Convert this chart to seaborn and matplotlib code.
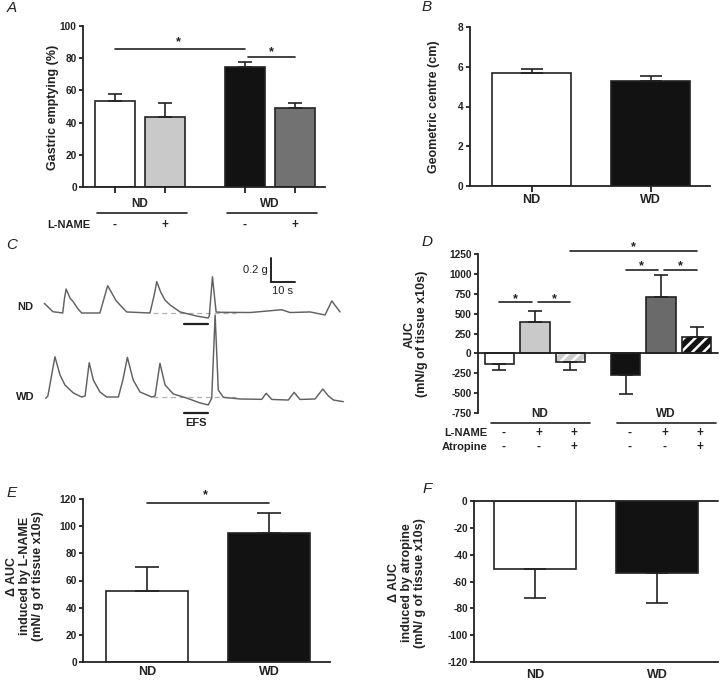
import numpy as np
import pandas as pd
import matplotlib
matplotlib.use("Agg")
import matplotlib.pyplot as plt
import seaborn as sns
from matplotlib.patches import Rectangle
from matplotlib.transforms import blended_transform_factory, offset_copy

# ---------------- data ----------------
# Panel A: gastric emptying (%)
a_diet = ["ND", "ND", "WD", "WD"]
a_lname = ["-", "+", "-", "+"]
a_mean = [53.2, 43.5, 74.3, 49.3]
a_sem = [4.6, 8.6, 3.4, 2.9]

# Panel B: geometric centre (cm)
b_diet = ["ND", "WD"]
b_mean = [5.70, 5.28]
b_sem = [0.18, 0.24]

# Panel C: representative traces (time in s, force in g above baseline)
nd_t = [0.1, 3.7, 7.7, 8.4, 9.1, 10.7, 12.1, 13.8, 15.5, 23.0, 25.1, 26.2, 27.9, 29.5,
        31.3, 34.0, 43.6, 45.3, 46.4, 48.0, 49.8, 51.9, 56.0, 62.8, 67.5, 68.0, 69.3,
        70.8, 72.4, 84.8, 97.8, 101.2, 109.5, 115.6, 118.4, 121.8]
nd_g = [0.083, 0.011, 0.0, 0.12, 0.205, 0.128, 0.094, 0.04, 0.0, 0.0, 0.154, 0.233,
        0.171, 0.11, 0.068, 0.009, 0.0, 0.15, 0.268, 0.179, 0.11, 0.068, 0.009, -0.026,
        -0.043, -0.026, 0.31, 0.009, 0.006, 0.004, 0.028, 0.004, 0.009, -0.017, 0.103,
        0.009]
wd_t = [0.7, 1.6, 4.5, 6.6, 8.6, 12.1, 15.5, 16.9, 18.6, 20.3, 23.0, 25.8, 30.6, 32.5,
        34.3, 36.7, 39.5, 44.3, 45.7, 47.7, 49.8, 53.2, 58.7, 64.2, 67.6, 69.0, 70.4,
        71.7, 73.8, 80.7, 89.6, 91.4, 93.7, 100.5, 102.9, 105.3, 111.5, 114.7, 117.0,
        119.1, 123.2]
wd_g = [-0.011, 0.009, 0.344, 0.188, 0.103, 0.034, 0.0, 0.009, 0.293, 0.145, 0.043,
        0.0, 0.0, 0.15, 0.339, 0.145, 0.043, 0.0, 0.009, 0.288, 0.103, 0.026, -0.009,
        -0.051, -0.068, -0.009, 0.70, 0.06, -0.003, -0.017, -0.02, 0.032, -0.021,
        -0.026, 0.040, -0.021, -0.017, 0.068, 0.009, -0.026, -0.040]
trace_names = ["ND", "WD"]
efs_window = [57.6, 67.5]
baseline_window = [44.9, 79.0]
scale_s = 10
scale_g = 0.2

# Panel D: AUC
d_diet = ["ND", "ND", "ND", "WD", "WD", "WD"]
d_treat = ["Control", "L-NAME", "L-NAME+Atropine"] * 2
d_lname = ["-", "+", "+", "-", "+", "+"]
d_atro = ["-", "-", "+", "-", "-", "+"]
d_mean = [-133, 396, -113, -271, 708, 204]
d_sem = [75, 137, 95, 237, 280, 129]

# Panel E: delta AUC induced by L-NAME
e_diet = ["ND", "WD"]
e_mean = [52.4, 95.2]
e_sem = [17.9, 14.2]

# Panel F: delta AUC induced by atropine
f_diet = ["ND", "WD"]
f_mean = [-50.7, -53.9]
f_sem = [21.3, 22.3]

# ---------------- style ----------------
W, H = 720, 681
sns.set_style("ticks")
plt.rcParams["font.family"] = ["Liberation Sans", "DejaVu Sans"]
plt.rcParams["font.weight"] = "bold"
plt.rcParams["axes.labelweight"] = "bold"
plt.rcParams["axes.unicode_minus"] = False
plt.rcParams["hatch.linewidth"] = 1.8
INK = "#222222"
plt.rcParams["text.color"] = INK
plt.rcParams["xtick.color"] = INK
plt.rcParams["ytick.color"] = INK

fig = plt.figure(figsize=(W / 100, H / 100), dpi=100)


def add_ax(l, t, r, b):
    return fig.add_axes([l / W, 1 - b / H, (r - l) / W, (b - t) / H])


def fy(py):
    return 1 - py / H


def style(ax):
    sns.despine(ax=ax)
    for s in ax.spines.values():
        s.set_linewidth(1.3)
        s.set_color(INK)
    ax.tick_params(axis="y", length=3, width=1.3, labelsize=7.3, pad=1.5)
    ax.set_xlabel("")
    ax.set_ylabel("")


def sorted_bars(ax):
    return sorted([p for p in ax.patches if isinstance(p, Rectangle)],
                  key=lambda p: p.get_x())


def errors(ax, bars, mean, sem, capsize):
    xs = [p.get_x() + p.get_width() / 2 for p in bars]
    lo = [s if m < 0 else 0 for m, s in zip(mean, sem)]
    hi = [s if m >= 0 else 0 for m, s in zip(mean, sem)]
    ax.errorbar(xs, mean, yerr=[lo, hi], fmt="none", ecolor=INK, elinewidth=1.2,
                capsize=capsize, capthick=1.2, zorder=3, clip_on=False)
    return xs


def sig(ax, x0, x1, y, off, sx=None):
    ax.plot([x0, x1], [y, y], color=INK, lw=1.2, clip_on=False, zorder=4)
    tr = offset_copy(ax.transData, fig=fig, y=off, units="points")
    ax.text((x0 + x1) / 2 if sx is None else sx, y, "*", transform=tr, ha="center",
            va="baseline", fontsize=9, clip_on=False)


def ylab(px, py, text):
    fig.text(px / W, fy(py), text, rotation=90, ha="center", va="center",
             fontsize=9, fontweight="bold", multialignment="center", linespacing=1.1)


def letter(px, py, s):
    fig.text(px / W, fy(py), s, ha="center", va="center", fontsize=11,
             fontstyle="italic", fontweight="normal")


BAR_KW = dict(edgecolor=INK, linewidth=1.2, errorbar=None, legend=False)

# ---------------- Panel A ----------------
axA = add_ax(83, 26, 325, 187)
dfA = pd.DataFrame({"diet": a_diet, "lname": a_lname, "mean": a_mean})
sns.barplot(data=dfA, x="diet", y="mean", hue="lname", order=["ND", "WD"],
            hue_order=["-", "+"], palette=["white", "white"], width=0.77, gap=0.2,
            ax=axA, **BAR_KW)
barsA = sorted_bars(axA)
for p, c in zip(barsA, ["#ffffff", "#c9c9c9", "#121212", "#727272"]):
    p.set_facecolor(c)
xA = errors(axA, barsA, a_mean, a_sem, 4.7)
style(axA)
axA.set_xlim(-0.438, 1.423)
axA.set_ylim(0, 100)
axA.set_yticks(range(0, 101, 20))
axA.set_xticks(xA)
axA.set_xticklabels([])
axA.tick_params(axis="x", length=4, width=1.3)
sig(axA, xA[0], xA[2], 85.5, 3.0, sx=(xA[0] + xA[2]) / 2 - 0.015)
sig(axA, xA[2] + 0.02, xA[3], 80.9, 1.4)
btA = blended_transform_factory(axA.transData, fig.transFigure)
for gi, g in enumerate(["ND", "WD"]):
    axA.text(gi, fy(204), g, transform=btA, ha="center", va="center", fontsize=8.5)
    axA.plot([gi - 0.33, gi + 0.36], [fy(213), fy(213)], transform=btA, color=INK,
             lw=1.2, clip_on=False)
for x, s in zip(xA, a_lname):
    axA.text(x, fy(225), s, transform=btA, ha="center", va="center", fontsize=8.5)
fig.text(90 / W, fy(225), "L-NAME", ha="right", va="center", fontsize=8)
ylab(53, 107, "Gastric emptying (%)")
letter(12, 8, "A")

# ---------------- Panel B ----------------
axB = add_ax(470, 27, 710, 186)
dfB = pd.DataFrame({"diet": b_diet, "mean": b_mean})
sns.barplot(data=dfB, x="diet", y="mean", hue="diet", palette=["#ffffff", "#121212"],
            width=0.66, ax=axB, **BAR_KW)
barsB = sorted_bars(axB)
errors(axB, barsB, b_mean, b_sem, 7.9)
style(axB)
axB.set_xlim(-0.517, 1.5)
axB.set_ylim(0, 8)
axB.set_yticks(range(0, 9, 2))
axB.tick_params(axis="x", length=4, width=1.3, labelsize=9, pad=2)
ylab(434, 107, "Geometric centre (cm)")
letter(427, 7, "B")

# ---------------- Panel C ----------------
axC = add_ax(0, 240, 360, 470)
offsets = [0.0, -0.718]
dfC = pd.concat([
    pd.DataFrame({"t": nd_t, "g": np.array(nd_g) + offsets[0], "trace": "ND"}),
    pd.DataFrame({"t": wd_t, "g": np.array(wd_g) + offsets[1], "trace": "WD"}),
])
sns.lineplot(data=dfC, x="t", y="g", units="trace", estimator=None, sort=False,
             color="#616161", lw=1.05, ax=axC)
axC.set_xlim(-18.1, 130.0)
axC.set_ylim(-1.342, 0.624)
axC.axis("off")
for off, name in zip(offsets, trace_names):
    axC.plot(baseline_window, [off, off], ls=(0, (4, 3)), color="#b0b0b0", lw=0.9,
             zorder=1)
    axC.text(-7.6, off + 0.05 if name == "ND" else off, name, ha="center",
             va="center", fontsize=8)
axC.plot(efs_window, [-0.094, -0.094], color=INK, lw=1.6)
axC.plot(efs_window, [-0.852, -0.852], color=INK, lw=1.6)
axC.text(np.mean(efs_window), -0.94, "EFS", ha="center", va="center", fontsize=8)
sb_x, sb_y = 93.3, 0.268
axC.plot([sb_x, sb_x, sb_x + scale_s], [sb_y + scale_g, sb_y, sb_y], color=INK,
         lw=1.4, solid_joinstyle="miter")
axC.text(sb_x - 1.2, sb_y + scale_g / 2, f"{scale_g} g", ha="right", va="center",
         fontsize=8, fontweight="normal")
axC.text(sb_x + scale_s / 2, sb_y - 0.08, f"{scale_s} s", ha="center", va="center",
         fontsize=8, fontweight="normal")
letter(12, 245, "C")

# ---------------- Panel D ----------------
axD = add_ax(478, 254, 718, 413)
dfD = pd.DataFrame({"diet": d_diet, "treat": d_treat, "mean": d_mean})
sns.barplot(data=dfD, x="diet", y="mean", hue="treat", order=["ND", "WD"],
            hue_order=["Control", "L-NAME", "L-NAME+Atropine"],
            palette=["white", "white", "white"], width=0.845, gap=0.18, ax=axD,
            **BAR_KW)
barsD = sorted_bars(axD)
d_faces = ["#ffffff", "#c9c9c9", "#cdcdcd", "#121212", "#6a6a6a", "#121212"]
d_hatched = [False, False, True, False, False, True]
for p, c, h in zip(barsD, d_faces, d_hatched):
    p.set_facecolor(c)
    if h:
        p.set_hatch("///")
        p.set_edgecolor("white")
        p.set_linewidth(0)
        axD.add_patch(Rectangle((p.get_x(), p.get_y()), p.get_width(),
                                p.get_height(), fill=False, edgecolor=INK, lw=1.2,
                                zorder=p.get_zorder() + 0.1))
xD = errors(axD, barsD, d_mean, d_sem, 4.7)
style(axD)
axD.spines["bottom"].set_visible(False)
axD.axhline(0, color=INK, lw=1.3, xmin=0, xmax=1, clip_on=False)
axD.set_xlim(-0.452, 1.452)
axD.set_ylim(-750, 1250)
axD.set_yticks(range(-750, 1251, 250))
axD.set_xticks([])
sig(axD, xD[0], xD[1] - 0.025, 646, 0.0)
sig(axD, xD[1] + 0.025, xD[2], 646, 0.0)
sig(axD, xD[3], xD[4] - 0.025, 1054, 0.3)
sig(axD, xD[4] + 0.025, xD[5], 1054, 0.3)
sig(axD, xD[2], xD[5], 1292, 0.3)
btD = blended_transform_factory(axD.transData, fig.transFigure)
for gi, g in enumerate(["ND", "WD"]):
    axD.text(gi + 0.04, fy(414), g, transform=btD, ha="center", va="center",
             fontsize=8.5)
    axD.plot([gi - 0.35, gi + 0.44], [fy(423), fy(423)], transform=btD, color=INK,
             lw=1.2, clip_on=False)
for x, s1, s2 in zip(xD, d_lname, d_atro):
    axD.text(x + 0.03, fy(433), s1, transform=btD, ha="center", va="center",
             fontsize=8.5)
    axD.text(x + 0.03, fy(447), s2, transform=btD, ha="center", va="center",
             fontsize=8.5)
fig.text(487 / W, fy(433), "L-NAME", ha="right", va="center", fontsize=8)
fig.text(487 / W, fy(447), "Atropine", ha="right", va="center", fontsize=8)
ylab(416, 334, "AUC\n(mN/g of tissue x10s)")
letter(427, 242, "D")

# ---------------- Panel E ----------------
axE = add_ax(83, 499, 330, 662)
dfE = pd.DataFrame({"diet": e_diet, "mean": e_mean})
sns.barplot(data=dfE, x="diet", y="mean", hue="diet", palette=["#ffffff", "#121212"],
            width=0.672, ax=axE, **BAR_KW)
barsE = sorted_bars(axE)
xE = errors(axE, barsE, e_mean, e_sem, 8.6)
style(axE)
axE.set_xlim(-0.525, 1.5)
axE.set_ylim(0, 120)
axE.set_yticks(range(0, 121, 20))
axE.tick_params(axis="x", length=0, labelsize=9, pad=3)
sig(axE, xE[0], xE[1], 116.8, 3.4, sx=0.48)
ylab(25, 576, "Δ AUC\ninduced by L-NAME\n(mN/ g of tissue x10s)")
letter(12, 493, "E")

# ---------------- Panel F ----------------
axF = add_ax(474, 501, 718, 662)
dfF = pd.DataFrame({"diet": f_diet, "mean": f_mean})
sns.barplot(data=dfF, x="diet", y="mean", hue="diet", palette=["#ffffff", "#121212"],
            width=0.672, ax=axF, **BAR_KW)
barsF = sorted_bars(axF)
errors(axF, barsF, f_mean, f_sem, 7.9)
style(axF)
axF.axhline(0, color=INK, lw=1.3, clip_on=False)
axF.set_xlim(-0.5, 1.5)
axF.set_ylim(-120, 0)
axF.set_yticks(range(-120, 1, 20))
axF.tick_params(axis="x", length=0, labelsize=9, pad=5)
ylab(407, 583, "Δ AUC\ninduced by atropine\n(mN/ g of tissue x10s)")
letter(427, 489, "F")

fig.savefig("out.png", dpi=100)
